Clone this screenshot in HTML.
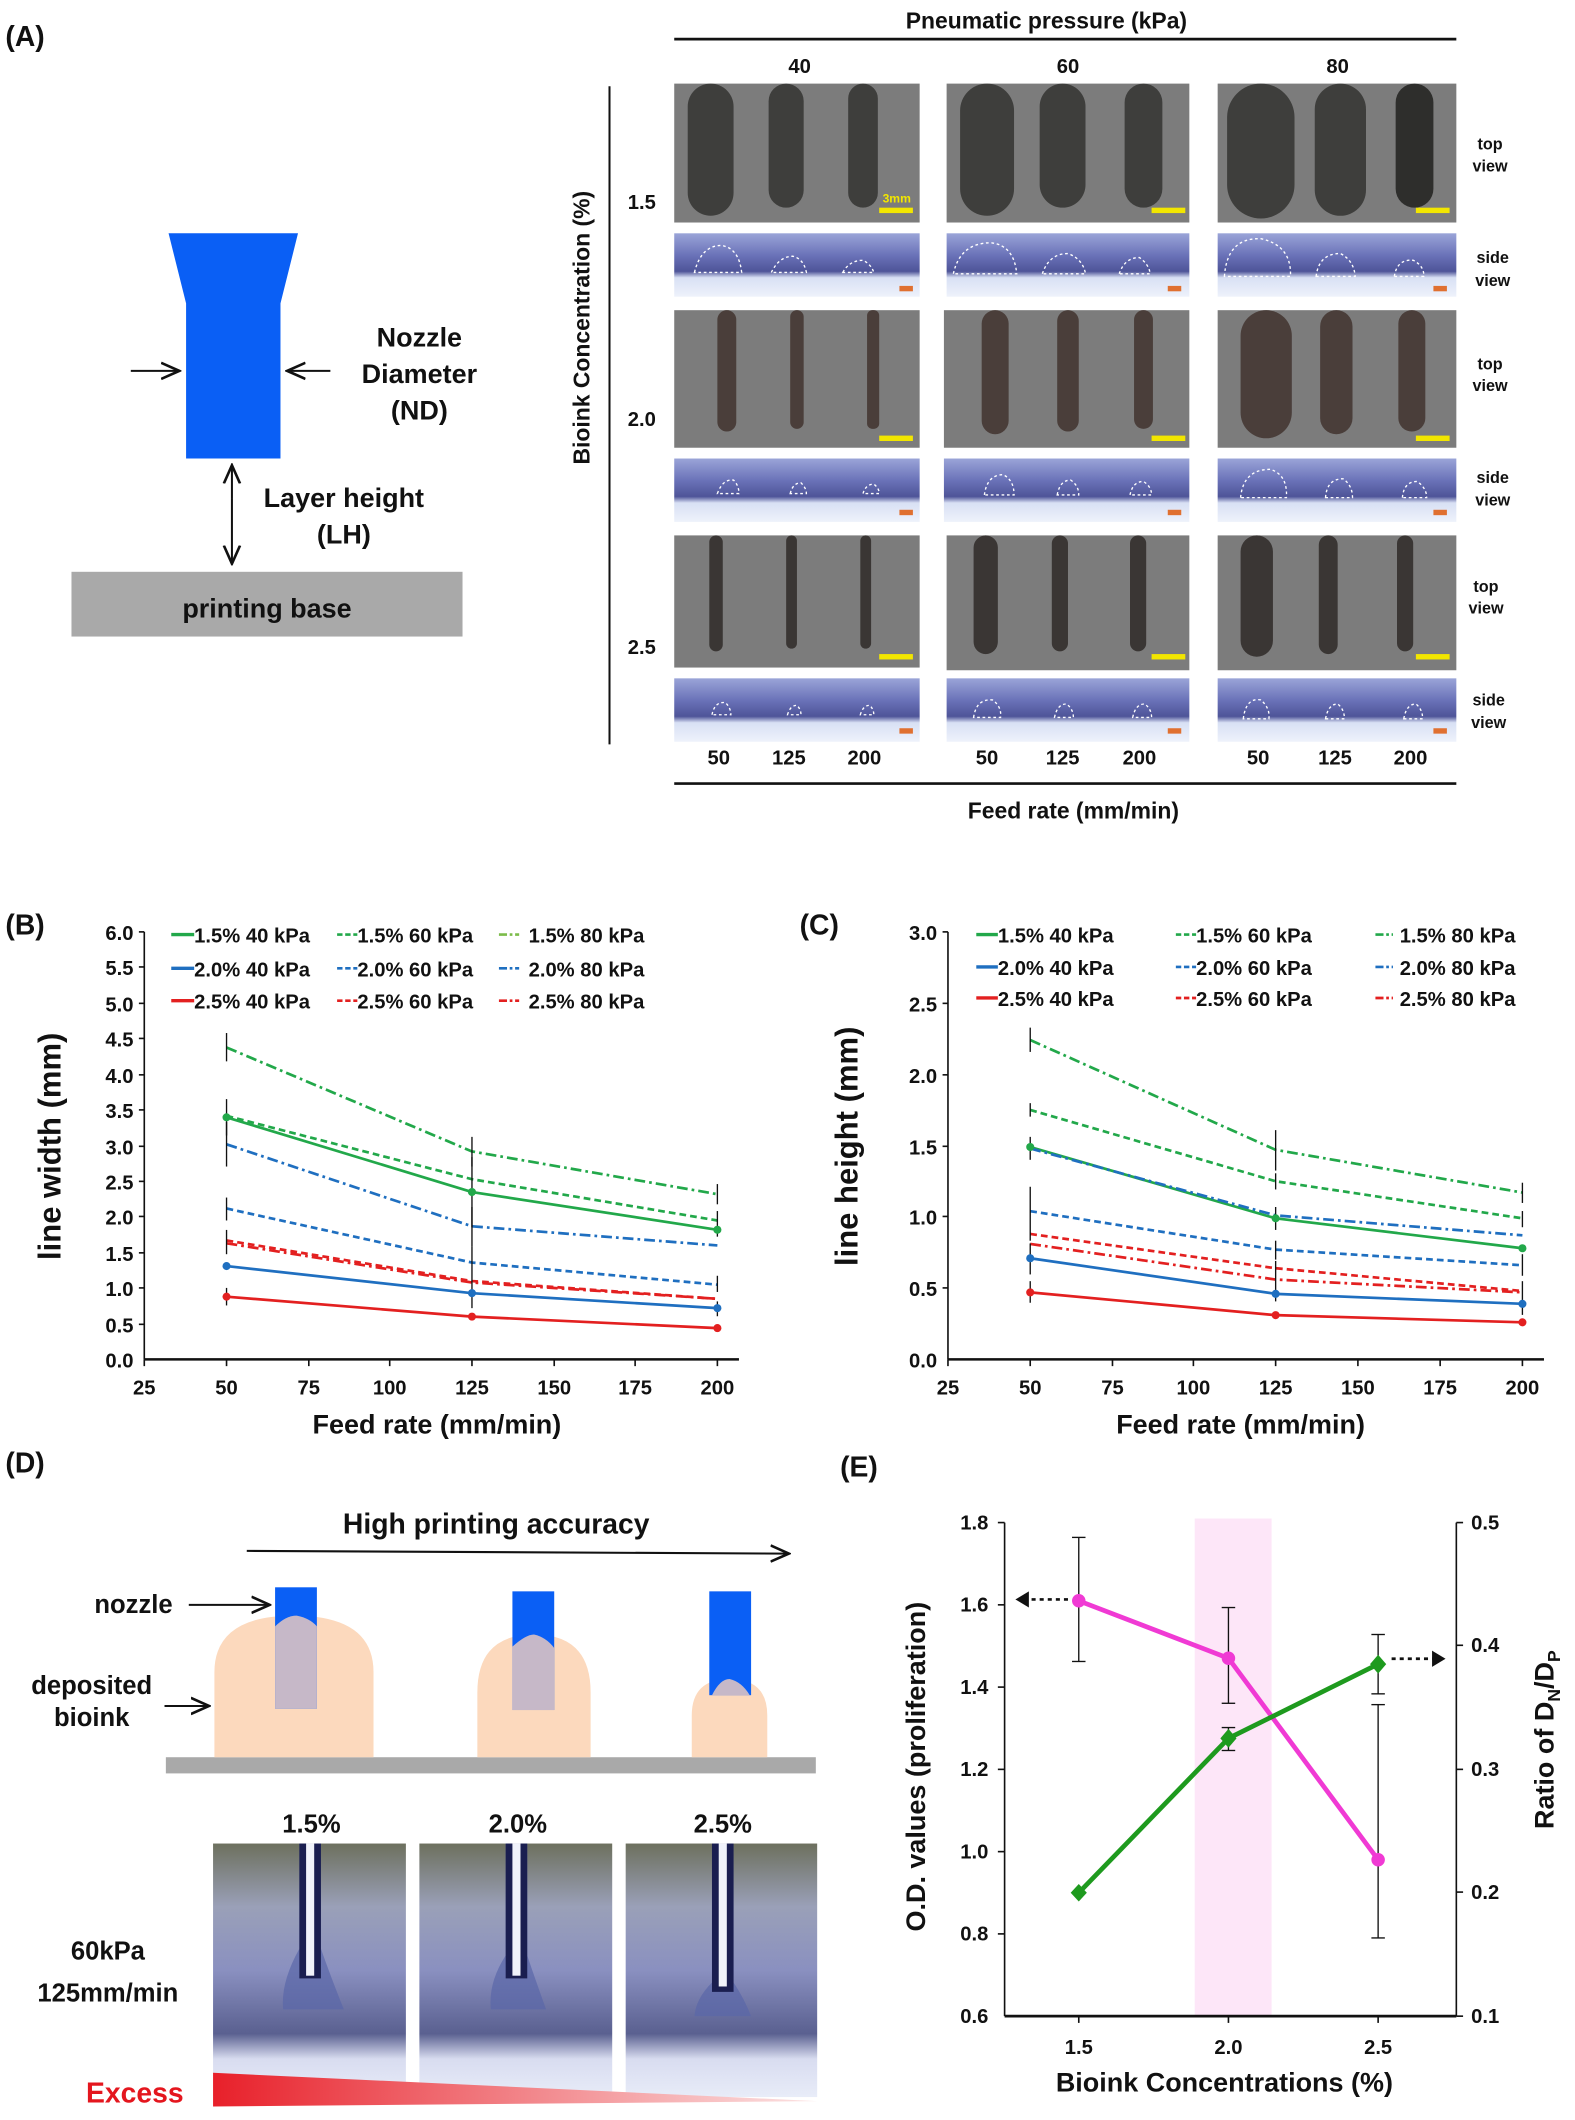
<!DOCTYPE html>
<html><head><meta charset="utf-8"><style>
html,body{margin:0;padding:0;background:#fff}
svg{display:block}
text{font-family:"Liberation Sans",Arial,sans-serif;font-weight:bold;fill:#111}
</style></head><body>
<svg width="1575" height="2120" viewBox="0 0 1168 1572" preserveAspectRatio="none" xmlns="http://www.w3.org/2000/svg">
<defs>
<marker id="ah" markerWidth="10" markerHeight="10" refX="9" refY="5" orient="auto"><path d="M0,1 L9,5 L0,9" fill="none" stroke="#111" stroke-width="1.3"/></marker>
<linearGradient id="ex" x1="0" x2="1"><stop offset="0" stop-color="#e8202a"/><stop offset="1" stop-color="#fbe3e3"/></linearGradient>
<linearGradient id="ph" x1="0" y1="0" x2="0" y2="1"><stop offset="0" stop-color="#6d705e"/><stop offset="0.25" stop-color="#9aa0b8"/><stop offset="0.5" stop-color="#8a90c0"/><stop offset="0.75" stop-color="#5a6090"/><stop offset="0.85" stop-color="#d8dcf0"/><stop offset="1" stop-color="#e8ecf8"/></linearGradient>
<linearGradient id="sv" x1="0" y1="0" x2="0" y2="1"><stop offset="0" stop-color="#9aa4d8"/><stop offset="0.35" stop-color="#6a72b8"/><stop offset="0.6" stop-color="#4e5498"/><stop offset="0.7" stop-color="#d8e0f4"/><stop offset="1" stop-color="#eef2fb"/></linearGradient>
</defs>

<!-- Panel A -->
<text x="4" y="34" font-size="21">(A)</text>
<polygon points="125,173 221,173 208,225 208,340 138,340 138,225" fill="#0a5ff5"/>
<line x1="97" y1="275" x2="133" y2="275" stroke="#111" stroke-width="1.5" marker-end="url(#ah)"/>
<line x1="245" y1="275" x2="213" y2="275" stroke="#111" stroke-width="1.5" marker-end="url(#ah)"/>
<text x="311" y="257" font-size="20" text-anchor="middle">Nozzle</text>
<text x="311" y="284" font-size="20" text-anchor="middle">Diameter</text>
<text x="311" y="311" font-size="20" text-anchor="middle">(ND)</text>
<line x1="172" y1="370" x2="172" y2="345" stroke="#111" stroke-width="1.5" marker-end="url(#ah)"/>
<line x1="172" y1="370" x2="172" y2="418" stroke="#111" stroke-width="1.5" marker-end="url(#ah)"/>
<text x="255" y="376" font-size="20" text-anchor="middle">Layer height</text>
<text x="255" y="403" font-size="20" text-anchor="middle">(LH)</text>
<rect x="53" y="424" width="290" height="48" fill="#a9a9a9"/>
<text x="198" y="458" font-size="20" text-anchor="middle">printing base</text>

<text x="776" y="21" font-size="17" text-anchor="middle">Pneumatic pressure (kPa)</text>
<line x1="500" y1="29" x2="1080" y2="29" stroke="#111" stroke-width="2"/>
<text x="593" y="54" font-size="15" text-anchor="middle">40</text>
<text x="792" y="54" font-size="15" text-anchor="middle">60</text>
<text x="992" y="54" font-size="15" text-anchor="middle">80</text>
<line x1="452" y1="64" x2="452" y2="552" stroke="#111" stroke-width="1.5"/>
<text transform="translate(437,243) rotate(-90)" font-size="17" text-anchor="middle">Bioink Concentration (%)</text>
<text x="476" y="155" font-size="15" text-anchor="middle">1.5</text>
<text x="476" y="316" font-size="15" text-anchor="middle">2.0</text>
<text x="476" y="485" font-size="15" text-anchor="middle">2.5</text>

<g id="tops">
<!-- row 1 top -->
<rect x="500" y="62" width="182" height="103" fill="#7c7c7c"/><rect x="702" y="62" width="180" height="103" fill="#7c7c7c"/><rect x="903" y="62" width="177" height="103" fill="#7c7c7c"/>
<rect x="510" y="62" width="34" height="98" rx="17" fill="#3e3e3c"/><rect x="570" y="62" width="26" height="92" rx="13" fill="#3e3e3c"/><rect x="629" y="62" width="22" height="92" rx="11" fill="#3e3e3c"/>
<rect x="712" y="62" width="40" height="98" rx="20" fill="#3e3e3c"/><rect x="771" y="62" width="34" height="92" rx="17" fill="#3e3e3c"/><rect x="834" y="62" width="28" height="92" rx="14" fill="#3e3e3c"/>
<rect x="910" y="62" width="50" height="100" rx="25" fill="#3e3e3c"/><rect x="975" y="62" width="38" height="98" rx="19" fill="#3e3e3c"/><rect x="1035" y="62" width="28" height="92" rx="14" fill="#2e2e2c"/>
<!-- row 2 top -->
<rect x="500" y="230" width="182" height="102" fill="#7c7c7c"/><rect x="700" y="230" width="182" height="102" fill="#7c7c7c"/><rect x="903" y="230" width="177" height="102" fill="#7c7c7c"/>
<rect x="532" y="230" width="14" height="90" rx="7" fill="#4a3e3a"/><rect x="586" y="230" width="10" height="88" rx="5" fill="#4a3e3a"/><rect x="643" y="230" width="9" height="88" rx="4" fill="#4a3e3a"/>
<rect x="728" y="230" width="20" height="92" rx="10" fill="#4a3e3a"/><rect x="784" y="230" width="16" height="90" rx="8" fill="#4a3e3a"/><rect x="841" y="230" width="14" height="88" rx="7" fill="#4a3e3a"/>
<rect x="920" y="230" width="38" height="95" rx="19" fill="#4a3e3a"/><rect x="979" y="230" width="24" height="92" rx="12" fill="#4a3e3a"/><rect x="1037" y="230" width="20" height="90" rx="10" fill="#4a3e3a"/>
<!-- row 3 top -->
<rect x="500" y="397" width="182" height="98" fill="#7c7c7c"/><rect x="702" y="397" width="180" height="100" fill="#7c7c7c"/><rect x="903" y="397" width="177" height="100" fill="#7c7c7c"/>
<rect x="526" y="397" width="10" height="86" rx="5" fill="#3a3634"/><rect x="583" y="397" width="8" height="84" rx="4" fill="#3a3634"/><rect x="638" y="397" width="8" height="84" rx="4" fill="#3a3634"/>
<rect x="722" y="397" width="18" height="88" rx="9" fill="#3a3634"/><rect x="780" y="397" width="12" height="86" rx="6" fill="#3a3634"/><rect x="838" y="397" width="12" height="86" rx="6" fill="#3a3634"/>
<rect x="920" y="397" width="24" height="90" rx="12" fill="#3a3634"/><rect x="978" y="397" width="14" height="88" rx="7" fill="#3a3634"/><rect x="1036" y="397" width="12" height="86" rx="6" fill="#3a3634"/>
</g>
<g fill="#f2e600">
<rect x="652" y="154" width="25" height="4"/><rect x="854" y="154" width="25" height="4"/><rect x="1050" y="154" width="25" height="4"/>
<rect x="652" y="323" width="25" height="4"/><rect x="854" y="323" width="25" height="4"/><rect x="1050" y="323" width="25" height="4"/>
<rect x="652" y="485" width="25" height="4"/><rect x="854" y="485" width="25" height="4"/><rect x="1050" y="485" width="25" height="4"/>
</g>
<text x="665" y="150" font-size="9" fill="#f2e600" style="fill:#f2e600" text-anchor="middle">3mm</text>
<g>
<rect x="500" y="173" width="182" height="47" fill="url(#sv)"/><rect x="702" y="173" width="180" height="47" fill="url(#sv)"/><rect x="903" y="173" width="177" height="47" fill="url(#sv)"/>
<rect x="500" y="340" width="182" height="47" fill="url(#sv)"/><rect x="700" y="340" width="182" height="47" fill="url(#sv)"/><rect x="903" y="340" width="177" height="47" fill="url(#sv)"/>
<rect x="500" y="503" width="182" height="47" fill="url(#sv)"/><rect x="702" y="503" width="180" height="47" fill="url(#sv)"/><rect x="903" y="503" width="177" height="47" fill="url(#sv)"/>
</g>
<g fill="#e07030"><rect x="667" y="212" width="10" height="4"/><rect x="866" y="212" width="10" height="4"/><rect x="1063" y="212" width="10" height="4"/><rect x="667" y="378" width="10" height="4"/><rect x="866" y="378" width="10" height="4"/><rect x="1063" y="378" width="10" height="4"/><rect x="667" y="540" width="10" height="4"/><rect x="866" y="540" width="10" height="4"/><rect x="1063" y="540" width="10" height="4"/></g>
<g fill="none" stroke="#fff" stroke-width="1" stroke-dasharray="2,2">
<path d="M515,202 Q520,182 535,182 Q548,184 550,202 Z"/><path d="M572,202 Q578,190 588,190 Q596,192 598,202 Z"/><path d="M625,202 Q630,193 640,193 Q646,196 648,202 Z"/>
<path d="M707,203 Q712,180 735,180 Q752,182 754,203 Z"/><path d="M773,203 Q778,188 792,188 Q803,192 805,203 Z"/><path d="M830,203 Q834,191 845,191 Q852,196 853,203 Z"/>
<path d="M908,205 Q910,176 935,177 Q958,182 957,205 Z"/><path d="M976,205 Q978,188 994,188 Q1004,193 1005,205 Z"/><path d="M1034,205 Q1036,192 1048,193 Q1056,197 1056,205 Z"/>
<path d="M532,366 Q536,355 544,356 Q548,360 548,366 Z"/><path d="M586,366 Q588,358 594,358 Q598,362 598,366 Z"/><path d="M640,366 Q642,359 648,359 Q652,362 652,366 Z"/>
<path d="M730,367 Q732,352 744,352 Q752,356 752,367 Z"/><path d="M784,367 Q786,356 794,356 Q800,360 800,367 Z"/><path d="M838,367 Q840,357 848,357 Q854,361 854,367 Z"/>
<path d="M920,369 Q922,348 942,348 Q955,352 954,369 Z"/><path d="M983,369 Q984,355 996,355 Q1003,360 1003,369 Z"/><path d="M1040,369 Q1041,357 1051,357 Q1058,362 1058,369 Z"/>
<path d="M528,530 Q530,520 538,521 Q542,525 542,530 Z"/><path d="M584,530 Q586,523 591,523 Q594,526 594,530 Z"/><path d="M638,530 Q640,523 645,523 Q648,526 648,530 Z"/>
<path d="M722,532 Q724,518 736,519 Q743,524 742,532 Z"/><path d="M782,532 Q784,522 791,522 Q796,526 796,532 Z"/><path d="M840,532 Q842,522 849,522 Q854,526 854,532 Z"/>
<path d="M922,533 Q924,517 935,519 Q942,525 941,533 Z"/><path d="M983,533 Q985,522 992,522 Q997,526 997,533 Z"/><path d="M1041,533 Q1043,522 1050,522 Q1055,526 1055,533 Z"/>
</g>
<g font-size="12" text-anchor="middle">
<text x="1105" y="111">top</text><text x="1105" y="127">view</text>
<text x="1107" y="195">side</text><text x="1107" y="212">view</text>
<text x="1105" y="274">top</text><text x="1105" y="290">view</text>
<text x="1107" y="358">side</text><text x="1107" y="375">view</text>
<text x="1102" y="439">top</text><text x="1102" y="455">view</text>
<text x="1104" y="523">side</text><text x="1104" y="540">view</text>
</g>
<g font-size="15" text-anchor="middle">
<text x="533" y="567">50</text><text x="585" y="567">125</text><text x="641" y="567">200</text>
<text x="732" y="567">50</text><text x="788" y="567">125</text><text x="845" y="567">200</text>
<text x="933" y="567">50</text><text x="990" y="567">125</text><text x="1046" y="567">200</text>
</g>
<line x1="500" y1="581" x2="1080" y2="581" stroke="#111" stroke-width="2"/>
<text x="796" y="607" font-size="17" text-anchor="middle">Feed rate (mm/min)</text>

<!-- Panel B -->
<text x="4" y="693" font-size="21">(B)</text>
<g stroke="#111" stroke-width="1.2">
<line x1="107" y1="691" x2="107" y2="1008"/><line x1="107" y1="1008" x2="548" y2="1008" stroke-width="1.8"/>
<line x1="103" y1="691" x2="107" y2="691"/><line x1="103" y1="717" x2="107" y2="717"/><line x1="103" y1="744" x2="107" y2="744"/><line x1="103" y1="770" x2="107" y2="770"/><line x1="103" y1="797" x2="107" y2="797"/><line x1="103" y1="823" x2="107" y2="823"/><line x1="103" y1="850" x2="107" y2="850"/><line x1="103" y1="876" x2="107" y2="876"/><line x1="103" y1="902" x2="107" y2="902"/><line x1="103" y1="929" x2="107" y2="929"/><line x1="103" y1="955" x2="107" y2="955"/><line x1="103" y1="982" x2="107" y2="982"/>
<line x1="107" y1="1008" x2="107" y2="1013"/><line x1="168" y1="1008" x2="168" y2="1013"/><line x1="229" y1="1008" x2="229" y2="1013"/><line x1="289" y1="1008" x2="289" y2="1013"/><line x1="350" y1="1008" x2="350" y2="1013"/><line x1="411" y1="1008" x2="411" y2="1013"/><line x1="471" y1="1008" x2="471" y2="1013"/><line x1="532" y1="1008" x2="532" y2="1013"/>
</g>
<g font-size="15" text-anchor="end">
<text x="99" y="697">6.0</text><text x="99" y="723">5.5</text><text x="99" y="750">5.0</text><text x="99" y="776">4.5</text><text x="99" y="803">4.0</text><text x="99" y="829">3.5</text><text x="99" y="856">3.0</text><text x="99" y="882">2.5</text><text x="99" y="908">2.0</text><text x="99" y="935">1.5</text><text x="99" y="961">1.0</text><text x="99" y="988">0.5</text><text x="99" y="1014">0.0</text>
</g>
<g font-size="15" text-anchor="middle">
<text x="107" y="1034">25</text><text x="168" y="1034">50</text><text x="229" y="1034">75</text><text x="289" y="1034">100</text><text x="350" y="1034">125</text><text x="411" y="1034">150</text><text x="471" y="1034">175</text><text x="532" y="1034">200</text>
</g>
<text x="324" y="1063" font-size="20" text-anchor="middle">Feed rate (mm/min)</text>
<text transform="translate(45,850) rotate(-90)" font-size="23" text-anchor="middle">line width (mm)</text>
<g fill="none" stroke-width="2">
<polyline points="168,828.5 350,883.9 532,911.9" stroke="#22a84a"/>
<polyline points="168,827.4 350,874.4 532,905" stroke="#22a84a" stroke-dasharray="5,3"/>
<polyline points="168,776.7 350,853.8 532,885.5" stroke="#22a84a" stroke-dasharray="8,3,2,3"/>
<polyline points="168,938.8 350,958.9 532,970" stroke="#1f6fc0"/>
<polyline points="168,896.1 350,936.2 532,952.6" stroke="#1f6fc0" stroke-dasharray="5,3"/>
<polyline points="168,848.5 350,909.3 532,923.5" stroke="#1f6fc0" stroke-dasharray="8,3,2,3"/>
<polyline points="168,961.5 350,976.3 532,984.8" stroke="#e32020"/>
<polyline points="168,919.8 350,949.9 532,963.1" stroke="#e32020" stroke-dasharray="5,3"/>
<polyline points="168,921.9 350,951 532,963.1" stroke="#e32020" stroke-dasharray="8,3,2,3"/>
</g>
<g stroke="#111" stroke-width="1">
<line x1="168" y1="766" x2="168" y2="787"/><line x1="168" y1="815" x2="168" y2="842"/><line x1="168" y1="832" x2="168" y2="865"/><line x1="168" y1="888" x2="168" y2="905"/><line x1="168" y1="912" x2="168" y2="930"/><line x1="168" y1="955" x2="168" y2="968"/>
<line x1="350" y1="843" x2="350" y2="865"/><line x1="350" y1="858" x2="350" y2="910"/><line x1="350" y1="895" x2="350" y2="924"/><line x1="350" y1="924" x2="350" y2="970"/>
<line x1="532" y1="878" x2="532" y2="893"/><line x1="532" y1="898" x2="532" y2="917"/><line x1="532" y1="946" x2="532" y2="958"/><line x1="532" y1="965" x2="532" y2="976"/>
</g>
<g>
<circle cx="168" cy="828.5" r="3" fill="#22a84a"/><circle cx="350" cy="883.9" r="3" fill="#22a84a"/><circle cx="532" cy="911.9" r="3" fill="#22a84a"/>
<circle cx="168" cy="938.8" r="3" fill="#1f6fc0"/><circle cx="350" cy="958.9" r="3" fill="#1f6fc0"/><circle cx="532" cy="970" r="3" fill="#1f6fc0"/>
<circle cx="168" cy="961.5" r="3" fill="#e32020"/><circle cx="350" cy="976.3" r="3" fill="#e32020"/><circle cx="532" cy="984.8" r="3" fill="#e32020"/>
</g>
<g font-size="15">
<line x1="127" y1="693" x2="144" y2="693" stroke="#22a84a" stroke-width="2.5"/><text x="144" y="699">1.5% 40 kPa</text>
<line x1="250" y1="693" x2="265" y2="693" stroke="#22a84a" stroke-width="2" stroke-dasharray="4,2"/><text x="265" y="699">1.5% 60 kPa</text>
<line x1="370" y1="693" x2="385" y2="693" stroke="#7cbc4a" stroke-width="2" stroke-dasharray="6,2,2,2"/><text x="392" y="699">1.5% 80 kPa</text>
<line x1="127" y1="718" x2="144" y2="718" stroke="#1f6fc0" stroke-width="2.5"/><text x="144" y="724">2.0% 40 kPa</text>
<line x1="250" y1="718" x2="265" y2="718" stroke="#1f6fc0" stroke-width="2" stroke-dasharray="4,2"/><text x="265" y="724">2.0% 60 kPa</text>
<line x1="370" y1="718" x2="385" y2="718" stroke="#1f6fc0" stroke-width="2" stroke-dasharray="6,2,2,2"/><text x="392" y="724">2.0% 80 kPa</text>
<line x1="127" y1="742" x2="144" y2="742" stroke="#e32020" stroke-width="2.5"/><text x="144" y="748">2.5% 40 kPa</text>
<line x1="250" y1="742" x2="265" y2="742" stroke="#e32020" stroke-width="2" stroke-dasharray="4,2"/><text x="265" y="748">2.5% 60 kPa</text>
<line x1="370" y1="742" x2="385" y2="742" stroke="#e32020" stroke-width="2" stroke-dasharray="6,2,2,2"/><text x="392" y="748">2.5% 80 kPa</text>
</g>

<!-- Panel C -->
<text x="593" y="693" font-size="21">(C)</text>
<g stroke="#111" stroke-width="1.2">
<line x1="703" y1="691" x2="703" y2="1008"/><line x1="703" y1="1008" x2="1145" y2="1008" stroke-width="1.8"/>
<line x1="699" y1="691" x2="703" y2="691"/><line x1="699" y1="744" x2="703" y2="744"/><line x1="699" y1="797" x2="703" y2="797"/><line x1="699" y1="850" x2="703" y2="850"/><line x1="699" y1="902" x2="703" y2="902"/><line x1="699" y1="955" x2="703" y2="955"/>
<line x1="703" y1="1008" x2="703" y2="1013"/><line x1="764" y1="1008" x2="764" y2="1013"/><line x1="825" y1="1008" x2="825" y2="1013"/><line x1="885" y1="1008" x2="885" y2="1013"/><line x1="946" y1="1008" x2="946" y2="1013"/><line x1="1007" y1="1008" x2="1007" y2="1013"/><line x1="1068" y1="1008" x2="1068" y2="1013"/><line x1="1129" y1="1008" x2="1129" y2="1013"/>
</g>
<g font-size="15" text-anchor="end">
<text x="695" y="697">3.0</text><text x="695" y="750">2.5</text><text x="695" y="803">2.0</text><text x="695" y="856">1.5</text><text x="695" y="908">1.0</text><text x="695" y="961">0.5</text><text x="695" y="1014">0.0</text>
</g>
<g font-size="15" text-anchor="middle">
<text x="703" y="1034">25</text><text x="764" y="1034">50</text><text x="825" y="1034">75</text><text x="885" y="1034">100</text><text x="946" y="1034">125</text><text x="1007" y="1034">150</text><text x="1068" y="1034">175</text><text x="1129" y="1034">200</text>
</g>
<text x="920" y="1063" font-size="20" text-anchor="middle">Feed rate (mm/min)</text>
<text transform="translate(636,850) rotate(-90)" font-size="23" text-anchor="middle">line height (mm)</text>
<g fill="none" stroke-width="2">
<polyline points="764,850.5 946,903.4 1129,925.6" stroke="#22a84a"/>
<polyline points="764,823 946,875.9 1129,903.4" stroke="#22a84a" stroke-dasharray="5,3"/>
<polyline points="764,771.2 946,852.6 1129,884.3" stroke="#22a84a" stroke-dasharray="8,3,2,3"/>
<polyline points="764,933 946,959.4 1129,966.8" stroke="#1f6fc0"/>
<polyline points="764,898.1 946,926.6 1129,938.2" stroke="#1f6fc0" stroke-dasharray="5,3"/>
<polyline points="764,851.6 946,901.2 1129,916" stroke="#1f6fc0" stroke-dasharray="8,3,2,3"/>
<polyline points="764,958.3 946,975.2 1129,980.5" stroke="#e32020"/>
<polyline points="764,915 946,940.4 1129,957.3" stroke="#e32020" stroke-dasharray="5,3"/>
<polyline points="764,922.4 946,948.8 1129,958.3" stroke="#e32020" stroke-dasharray="8,3,2,3"/>
</g>
<g stroke="#111" stroke-width="1">
<line x1="764" y1="762" x2="764" y2="780"/><line x1="764" y1="818" x2="764" y2="828"/><line x1="764" y1="843" x2="764" y2="860"/><line x1="764" y1="880" x2="764" y2="920"/><line x1="764" y1="922" x2="764" y2="945"/><line x1="764" y1="950" x2="764" y2="966"/>
<line x1="946" y1="838" x2="946" y2="868"/><line x1="946" y1="870" x2="946" y2="882"/><line x1="946" y1="895" x2="946" y2="912"/><line x1="946" y1="920" x2="946" y2="934"/><line x1="946" y1="935" x2="946" y2="965"/>
<line x1="1129" y1="877" x2="1129" y2="892"/><line x1="1129" y1="898" x2="1129" y2="910"/><line x1="1129" y1="930" x2="1129" y2="946"/><line x1="1129" y1="950" x2="1129" y2="975"/>
</g>
<g>
<circle cx="764" cy="850.5" r="3" fill="#22a84a"/><circle cx="946" cy="903.4" r="3" fill="#22a84a"/><circle cx="1129" cy="925.6" r="3" fill="#22a84a"/>
<circle cx="764" cy="933" r="3" fill="#1f6fc0"/><circle cx="946" cy="959.4" r="3" fill="#1f6fc0"/><circle cx="1129" cy="966.8" r="3" fill="#1f6fc0"/>
<circle cx="764" cy="958.3" r="3" fill="#e32020"/><circle cx="946" cy="975.2" r="3" fill="#e32020"/><circle cx="1129" cy="980.5" r="3" fill="#e32020"/>
</g>
<g font-size="15">
<line x1="724" y1="693" x2="740" y2="693" stroke="#22a84a" stroke-width="2.5"/><text x="740" y="699">1.5% 40 kPa</text>
<line x1="872" y1="693" x2="887" y2="693" stroke="#22a84a" stroke-width="2" stroke-dasharray="4,2"/><text x="887" y="699">1.5% 60 kPa</text>
<line x1="1020" y1="693" x2="1033" y2="693" stroke="#22a84a" stroke-width="2" stroke-dasharray="6,2,2,2"/><text x="1038" y="699">1.5% 80 kPa</text>
<line x1="724" y1="717" x2="740" y2="717" stroke="#1f6fc0" stroke-width="2.5"/><text x="740" y="723">2.0% 40 kPa</text>
<line x1="872" y1="717" x2="887" y2="717" stroke="#1f6fc0" stroke-width="2" stroke-dasharray="4,2"/><text x="887" y="723">2.0% 60 kPa</text>
<line x1="1020" y1="717" x2="1033" y2="717" stroke="#1f6fc0" stroke-width="2" stroke-dasharray="6,2,2,2"/><text x="1038" y="723">2.0% 80 kPa</text>
<line x1="724" y1="740" x2="740" y2="740" stroke="#e32020" stroke-width="2.5"/><text x="740" y="746">2.5% 40 kPa</text>
<line x1="872" y1="740" x2="887" y2="740" stroke="#e32020" stroke-width="2" stroke-dasharray="4,2"/><text x="887" y="746">2.5% 60 kPa</text>
<line x1="1020" y1="740" x2="1033" y2="740" stroke="#e32020" stroke-width="2" stroke-dasharray="6,2,2,2"/><text x="1038" y="746">2.5% 80 kPa</text>
</g>

<!-- Panel D -->
<text x="4" y="1092" font-size="21">(D)</text>
<text x="368" y="1137" font-size="21" text-anchor="middle">High printing accuracy</text>
<line x1="183" y1="1150" x2="585" y2="1152" stroke="#111" stroke-width="1.5" marker-end="url(#ah)"/>
<rect x="123" y="1303" width="482" height="12" fill="#a9a9a9"/>
<path d="M159,1303 L159,1240 Q159,1198 218,1198 Q277,1198 277,1240 L277,1303 Z" fill="#fcd9bd"/>
<path d="M354,1303 L354,1255 Q354,1212 396,1212 Q438,1212 438,1255 L438,1303 Z" fill="#fcd9bd"/>
<path d="M513,1303 L513,1272 Q513,1245 541,1245 Q569,1245 569,1272 L569,1303 Z" fill="#fcd9bd"/>
<rect x="204" y="1177" width="31" height="90" fill="#0a5ff5"/>
<rect x="380" y="1180" width="31" height="88" fill="#0a5ff5"/>
<rect x="526" y="1180" width="31" height="77" fill="#0a5ff5"/>
<path d="M204,1267 L204,1206 Q212,1198 220,1198 Q230,1200 235,1206 L235,1267 Z" fill="#c6b8c8"/>
<path d="M380,1268 L380,1221 Q390,1212 396,1212 Q405,1214 411,1222 L411,1268 Z" fill="#c6b8c8"/>
<path d="M528,1257 Q534,1245 541,1245 Q550,1247 556,1257 Z" fill="#c6b8c8"/>
<text x="70" y="1196" font-size="19">nozzle</text>
<line x1="140" y1="1190" x2="200" y2="1190" stroke="#111" stroke-width="1.5" marker-end="url(#ah)"/>
<text x="68" y="1256" font-size="19" text-anchor="middle">deposited</text>
<text x="68" y="1280" font-size="19" text-anchor="middle">bioink</text>
<line x1="122" y1="1265" x2="155" y2="1265" stroke="#111" stroke-width="1.5" marker-end="url(#ah)"/>
<text x="231" y="1359" font-size="19" text-anchor="middle">1.5%</text>
<text x="384" y="1359" font-size="19" text-anchor="middle">2.0%</text>
<text x="536" y="1359" font-size="19" text-anchor="middle">2.5%</text>
<rect x="158" y="1367" width="143" height="188" fill="url(#ph)"/>
<rect x="311" y="1367" width="143" height="188" fill="url(#ph)"/>
<rect x="464" y="1367" width="142" height="188" fill="url(#ph)"/>
<path d="M222,1367 L222,1445 Q208,1470 210,1490 L255,1490 Q245,1465 238,1445 L238,1367 Z" fill="#5a66a8" opacity="0.7"/>
<path d="M375,1367 L375,1450 Q362,1470 364,1490 L405,1490 Q396,1465 391,1450 L391,1367 Z" fill="#5a66a8" opacity="0.7"/>
<path d="M528,1367 L528,1470 Q516,1482 515,1495 L557,1495 Q552,1482 544,1470 L544,1367 Z" fill="#5a66a8" opacity="0.7"/>
<rect x="222" y="1367" width="16" height="100" fill="#1a1e50"/><rect x="227" y="1367" width="6" height="98" fill="#f0f2fa"/>
<rect x="375" y="1367" width="16" height="100" fill="#1a1e50"/><rect x="380" y="1367" width="6" height="98" fill="#f0f2fa"/>
<rect x="528" y="1367" width="16" height="110" fill="#1a1e50"/><rect x="533" y="1367" width="6" height="106" fill="#f0f2fa"/>
<text x="80" y="1453" font-size="19" text-anchor="middle">60kPa</text>
<text x="80" y="1484" font-size="19" text-anchor="middle">125mm/min</text>
<polygon points="158,1537 606,1558 158,1562" fill="url(#ex)"/>
<text x="100" y="1559" font-size="21" style="fill:#e4161e" text-anchor="middle">Excess</text>

<!-- Panel E -->
<text x="623" y="1095" font-size="21">(E)</text>
<rect x="886" y="1126" width="57" height="369" fill="#fde6f8"/>
<g stroke="#111" stroke-width="1.2">
<line x1="745" y1="1129" x2="745" y2="1495"/><line x1="1080" y1="1129" x2="1080" y2="1495"/>
<line x1="745" y1="1495" x2="1080" y2="1495" stroke-width="2"/>
<line x1="740" y1="1129" x2="745" y2="1129"/><line x1="740" y1="1190" x2="745" y2="1190"/><line x1="740" y1="1251" x2="745" y2="1251"/><line x1="740" y1="1312" x2="745" y2="1312"/><line x1="740" y1="1373" x2="745" y2="1373"/><line x1="740" y1="1434" x2="745" y2="1434"/>
<line x1="1080" y1="1129" x2="1085" y2="1129"/><line x1="1080" y1="1220" x2="1085" y2="1220"/><line x1="1080" y1="1312" x2="1085" y2="1312"/><line x1="1080" y1="1403" x2="1085" y2="1403"/><line x1="1080" y1="1495" x2="1085" y2="1495"/>
<line x1="800" y1="1495" x2="800" y2="1500"/><line x1="911" y1="1495" x2="911" y2="1500"/><line x1="1022" y1="1495" x2="1022" y2="1500"/>
</g>
<g font-size="15" text-anchor="end">
<text x="733" y="1134">1.8</text><text x="733" y="1195">1.6</text><text x="733" y="1256">1.4</text><text x="733" y="1317">1.2</text><text x="733" y="1378">1.0</text><text x="733" y="1439">0.8</text><text x="733" y="1500">0.6</text>
</g>
<g font-size="15">
<text x="1091" y="1134">0.5</text><text x="1091" y="1225">0.4</text><text x="1091" y="1317">0.3</text><text x="1091" y="1408">0.2</text><text x="1091" y="1500">0.1</text>
</g>
<g font-size="15" text-anchor="middle"><text x="800" y="1523">1.5</text><text x="911" y="1523">2.0</text><text x="1022" y="1523">2.5</text></g>
<text x="908" y="1551" font-size="20" text-anchor="middle">Bioink Concentrations (%)</text>
<text transform="translate(686,1310) rotate(-90)" font-size="20" text-anchor="middle">O.D. values (proliferation)</text>
<text transform="translate(1152,1290) rotate(-90)" font-size="20" text-anchor="middle">Ratio of D<tspan font-size="13" dy="5">N</tspan><tspan dy="-5">/D</tspan><tspan font-size="13" dy="5">P</tspan></text>
<g stroke="#111" stroke-width="1">
<line x1="800" y1="1140" x2="800" y2="1232"/><line x1="795" y1="1140" x2="805" y2="1140"/><line x1="795" y1="1232" x2="805" y2="1232"/>
<line x1="911" y1="1192" x2="911" y2="1263"/><line x1="906" y1="1192" x2="916" y2="1192"/><line x1="906" y1="1263" x2="916" y2="1263"/>
<line x1="1022" y1="1264" x2="1022" y2="1437"/><line x1="1017" y1="1264" x2="1027" y2="1264"/><line x1="1017" y1="1437" x2="1027" y2="1437"/>
<line x1="911" y1="1281" x2="911" y2="1298"/><line x1="906" y1="1281" x2="916" y2="1281"/><line x1="906" y1="1298" x2="916" y2="1298"/>
<line x1="1022" y1="1212" x2="1022" y2="1256"/><line x1="1017" y1="1212" x2="1027" y2="1212"/><line x1="1017" y1="1256" x2="1027" y2="1256"/>
</g>
<polyline points="800,1187 911,1229.6 1022,1379" fill="none" stroke="#f03ad4" stroke-width="3.5"/>
<polyline points="800,1403.5 911,1289 1022,1234" fill="none" stroke="#1e9a1e" stroke-width="3.5"/>
<circle cx="800" cy="1187" r="5" fill="#f03ad4"/><circle cx="911" cy="1229.6" r="5" fill="#f03ad4"/><circle cx="1022" cy="1379" r="5" fill="#f03ad4"/>
<g fill="#1e9a1e"><path d="M800,1397 L806,1403.5 L800,1410 L794,1403.5Z"/><path d="M911,1282 L917,1289 L911,1296 L905,1289Z"/><path d="M1022,1227 L1028,1234 L1022,1241 L1016,1234Z"/></g>
<line x1="792" y1="1186" x2="760" y2="1186" stroke="#111" stroke-width="2" stroke-dasharray="3,3"/>
<path d="M753,1186 L763,1180 L763,1192Z" fill="#111"/>
<line x1="1032" y1="1230" x2="1064" y2="1230" stroke="#111" stroke-width="2" stroke-dasharray="3,3"/>
<path d="M1072,1230 L1062,1224 L1062,1236Z" fill="#111"/>
</svg>
</body></html>
